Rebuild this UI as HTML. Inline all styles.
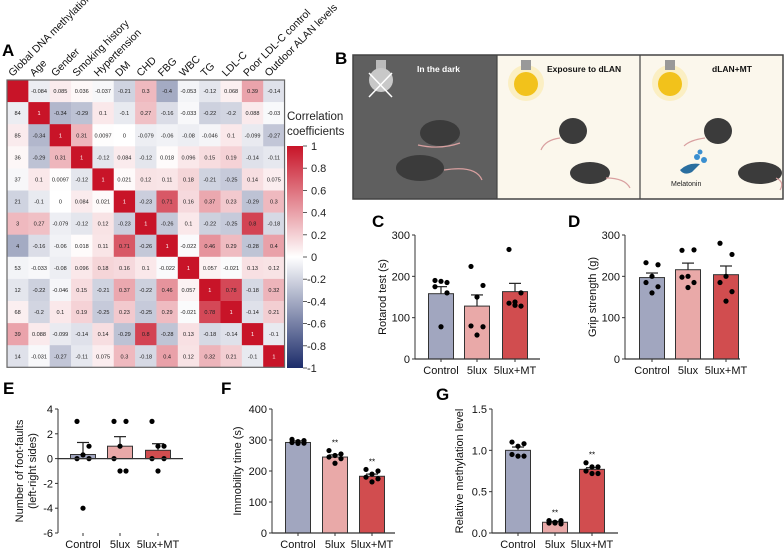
<!DOCTYPE html>
<html><head><meta charset="utf-8"><style>
html,body{margin:0;padding:0;background:#fff;}
svg{display:block;font-family:"Liberation Sans",Arial,sans-serif;}
</style></head><body>
<svg id="fig" width="784" height="549" viewBox="0 0 784 549" xmlns="http://www.w3.org/2000/svg">
<g id="heat"></g>
<g id="panelB">
  <text x="335" y="64" font-size="17" font-weight="bold">B</text>
  <rect x="353" y="55" width="144" height="144" fill="#5f5f5f"/>
  <rect x="497" y="55" width="143" height="144" fill="#fbf7ec"/>
  <rect x="640" y="55" width="143" height="144" fill="#fbf7ec"/>
  <rect x="353" y="55" width="430" height="144" fill="none" stroke="#444" stroke-width="1.5"/>
  <line x1="497" y1="55" x2="497" y2="199" stroke="#444" stroke-width="1.2"/>
  <line x1="640" y1="55" x2="640" y2="199" stroke="#444" stroke-width="1.2"/>
  <text x="417" y="72" font-size="8.5" font-weight="bold" fill="#fff">In the dark</text>
  <text x="547" y="72" font-size="8.5" font-weight="bold" fill="#111">Exposure to dLAN</text>
  <text x="712" y="72" font-size="8.5" font-weight="bold" fill="#111">dLAN+MT</text>
  <g>
    <rect x="376" y="60" width="10" height="10" fill="#bbb"/>
    <circle cx="381" cy="80" r="12" fill="#c8c8c8"/>
    <line x1="369" y1="73" x2="392" y2="97" stroke="#fff" stroke-width="1.5"/><line x1="392" y1="73" x2="369" y2="97" stroke="#fff" stroke-width="1.5"/>
  </g>
  <g>
    <circle cx="526" cy="83" r="18" fill="#fbe9a8" opacity="0.6"/>
    <rect x="521" y="60" width="10" height="10" fill="#999"/>
    <circle cx="526" cy="84" r="12" fill="#f2c21b"/>
  </g>
  <g>
    <circle cx="670" cy="83" r="18" fill="#fbe9a8" opacity="0.6"/>
    <rect x="665" y="60" width="10" height="10" fill="#999"/>
    <circle cx="670" cy="84" r="12" fill="#f2c21b"/>
  </g>
  <g fill="#3b3b3b">
    <ellipse cx="440" cy="133" rx="20" ry="13"/><ellipse cx="420" cy="168" rx="24" ry="13"/>
    <ellipse cx="573" cy="131" rx="14" ry="13"/><ellipse cx="590" cy="173" rx="20" ry="11"/>
    <ellipse cx="718" cy="131" rx="14" ry="13"/><ellipse cx="760" cy="173" rx="22" ry="11"/>
  </g>
  <g fill="none" stroke="#d9a0a0" stroke-width="1.2">
    <path d="M418 145 Q 440 150 460 143"/><path d="M444 170 Q 476 165 482 180"/>
    <path d="M560 138 Q 545 140 541 150"/><path d="M606 178 Q 625 178 630 188"/>
    <path d="M705 138 Q 690 140 684 146"/><path d="M776 178 Q 785 182 780 190"/>
  </g>
  <path d="M680 170 q8 -8 20 -6 l-8 8 q-8 4 -12 -2z" fill="#2a6e9f"/>
  <circle cx="697" cy="157" r="3" fill="#3a8fd0"/><circle cx="704" cy="160" r="3" fill="#3a8fd0"/><circle cx="700" cy="152" r="2.5" fill="#3a8fd0"/>
  <text x="671" y="186" font-size="7" fill="#222">Melatonin</text>
</g>
<g id="charts"></g>
</svg>
<script>
const NS="http://www.w3.org/2000/svg";
function mk(tag,attrs,parent,txt){const e=document.createElementNS(NS,tag);for(const k in attrs)e.setAttribute(k,attrs[k]);if(txt!==undefined)e.textContent=txt;parent.appendChild(e);return e;}

// ---------- Heatmap data ----------
const heatLabels=["Global DNA methylation","Age","Gender","Smoking history","Hypertension","DM","CHD","FBG","WBC","TG","LDL-C","Poor LDL-C control","Outdoor ALAN levels"];
const heatRow0=[1,-0.084,0.085,0.036,-0.037,-0.21,0.3,-0.4,-0.053,-0.12,0.068,0.39,-0.14];
const heatRow1=[-0.084,1,-0.34,-0.29,0.1,-0.1,0.27,-0.16,-0.033,-0.22,-0.2,0.088,-0.03];
const heatRow2=[0.085,-0.34,1,0.31,0.0097,0,-0.079,-0.06,-0.08,-0.046,0.1,-0.099,-0.27];
const heatRow3=[0.036,-0.29,0.31,1,-0.12,0.084,-0.12,0.018,0.096,0.15,0.19,-0.14,-0.11];
const heatRow4=[-0.037,0.1,0.0097,-0.12,1,0.021,0.12,0.11,0.18,-0.21,-0.25,0.14,0.075];
const heatRow5=[-0.21,-0.1,0,0.084,0.021,1,-0.23,0.71,0.16,0.37,0.23,-0.29,0.3];
const heatRow6=[0.3,0.27,-0.079,-0.12,0.12,-0.23,1,-0.26,0.1,-0.22,-0.25,0.8,-0.18];
const heatRow7=[-0.4,-0.16,-0.06,0.018,0.11,0.71,-0.26,1,-0.022,0.46,0.29,-0.28,0.4];
const heatRow8=[-0.053,-0.033,-0.08,0.096,0.18,0.16,0.1,-0.022,1,0.057,-0.021,0.13,0.12];
const heatRow9=[-0.12,-0.22,-0.046,0.15,-0.21,0.37,-0.22,0.46,0.057,1,0.78,-0.18,0.32];
const heatRow10=[0.068,-0.2,0.1,0.19,-0.25,0.23,-0.25,0.29,-0.021,0.78,1,-0.14,0.21];
const heatRow11=[0.39,0.088,-0.099,-0.14,0.14,-0.29,0.8,-0.28,0.13,-0.18,-0.14,1,-0.1];
const heatRow12=[-0.14,-0.031,-0.27,-0.11,0.075,0.3,-0.18,0.4,0.12,0.32,0.21,-0.1,1];
const heatMatrix=[heatRow0,heatRow1,heatRow2,heatRow3,heatRow4,heatRow5,heatRow6,heatRow7,heatRow8,heatRow9,heatRow10,heatRow11,heatRow12];
const cbTicks=[1,0.8,0.6,0.4,0.2,0,-0.2,-0.4,-0.6,-0.8,-1];

// ---------- Bar chart data ----------
const groups=["Control","5lux","5lux+MT"];
const cMeans=[158,128,163], cSem=[17,27,20];
const cPts=[[190,185,188,175,160,78],[224,178,150,80,78,58],[265,160,138,135,128,130]];
const dMeans=[197,216,204], dSem=[11,16,21];
const dPts=[[233,228,200,185,175,160],[263,264,200,198,185,173],[280,253,200,185,163,140]];
const eMeans=[0.33,1,0.67], eSem=[0.97,0.77,0.53];
const ePts=[[3,1,0.3,0,0,-4],[3,3,1,0,-1,-1],[3,1,1,0,0,-1]];
const fMeans=[292,245,183], fSem=[5,7,7];
const fPts=[[302,298,295,292,290,289],[266,255,250,245,240,225],[205,200,190,180,175,165]];
const gMeans=[1.0,0.13,0.77], gSem=[0.04,0.01,0.02];
const gPts=[[1.1,1.08,1.05,0.95,0.93,0.93],[0.15,0.15,0.12,0.12,0.11,0.13],[0.85,0.8,0.8,0.75,0.72,0.72]];
const fStars=[false,true,true], gStars=[false,true,true];

// ---------- Heatmap render ----------
const H=document.getElementById('heat');
const hx0=7,hy0=80,cw=21.35,ch=22.1;
function heatColor(v){
  const r=v>=0?[200,20,40]:[28,44,106];
  const t=Math.min(1,Math.abs(v));
  const c=[0,1,2].map(i=>Math.round(255+(r[i]-255)*t));
  return `rgb(${c[0]},${c[1]},${c[2]})`;
}
const lblA=mk('text',{x:2,y:56,'font-size':17,'font-weight':'bold'},H,'A');


heatLabels.forEach((l,i)=>{
  const cx=hx0+cw*(i+0.5)-5, cy=hy0-3;
  const t=mk('text',{x:cx,y:cy,'font-size':10.5,transform:`rotate(-45 ${cx} ${cy})`,fill:'#111'},H,l);
  
  
});
heatMatrix.forEach((row,r)=>{
  row.forEach((v,c)=>{
    const x=hx0+c*cw,y=hy0+r*ch;
    const rc=mk('rect',{x:x,y:y,width:cw+0.3,height:ch+0.3,fill:heatColor(v)},H);
    
    
    if(r===0&&c===0)return;
    let s=String(v);
    if(c===0){s=s.replace('-','').replace('0.','').replace(/^0+(?=\d\d)/,'');}
    const tt=mk('text',{x:x+cw/2,y:y+ch/2+2,'font-size':5.6,'text-anchor':'middle',fill:(r===c)?'#fff':'#222'},H,s);
    
    
  });
});
mk('rect',{x:hx0,y:hy0,width:cw*13,height:ch*13,fill:'none',stroke:'#666','stroke-width':1.2},H);
// colorbar
const defs=mk('defs',{},H);
const gr=mk('linearGradient',{id:'cbg',x1:0,y1:0,x2:0,y2:1},defs);
mk('stop',{offset:'0%','stop-color':heatColor(1)},gr);
mk('stop',{offset:'50%','stop-color':'#fff'},gr);
mk('stop',{offset:'100%','stop-color':heatColor(-1)},gr);
const cbTop=146,cbBot=368;
const cb=mk('rect',{x:287,y:cbTop,width:16,height:cbBot-cbTop,fill:'url(#cbg)'},H);


const ct1=mk('text',{x:287,y:120,'font-size':11.5,fill:'#222'},H,'Correlation');


mk('text',{x:287,y:135,'font-size':11.5,fill:'#222'},H,'coefficients');
cbTicks.forEach(v=>{
  const y=cbBot-(v+1)/2*(cbBot-cbTop);
  mk('line',{x1:303,y1:y,x2:307,y2:y,stroke:'#333','stroke-width':0.8},H);
  const t=mk('text',{x:v<0?307:311,y:y+4,'font-size':11,fill:'#222'},H,String(v));
  
  
});

// ---------- Bar chart renderer ----------
const C=document.getElementById('charts');
const barFill=['#a1a6bf','#e9a9a8','#d14d4f'];
function barChart(o){
  const g=mk('g',{},C);
  
  
  const yScale=v=>o.yBot-(v-o.yMin)/(o.yMax-o.yMin)*(o.yBot-o.yTop);
  const L=mk('text',{x:o.lx,y:o.ly,'font-size':17,'font-weight':'bold'},g,o.letter);
  
  
  const zeroY=yScale(Math.max(0,o.yMin));
  o.means.forEach((m,i)=>{
    const cx=o.cx[i];
    const yb=yScale(m);
    const r=mk('rect',{x:cx-12.5,y:Math.min(yb,zeroY),width:25,height:Math.abs(zeroY-yb),fill:barFill[i],stroke:'#333','stroke-width':1},g);
    
    
    const dir=m>=0?1:-1;
    const ye=yScale(m+dir*o.sem[i]);
    mk('line',{x1:cx,y1:yb,x2:cx,y2:ye,stroke:'#222','stroke-width':1.2},g);
    mk('line',{x1:cx-6,y1:ye,x2:cx+6,y2:ye,stroke:'#222','stroke-width':1.2},g);
    const pts=o.pts[i];
    pts.forEach((p,j)=>{
      const off=[-6,6,0,-6,6,0][j];
      const d=mk('circle',{cx:cx+off,cy:yScale(p),r:2.6,fill:'#000'},g);
      
      
    });
    if(o.stars&&o.stars[i]){
      const top=Math.max(...pts);
      mk('text',{x:cx,y:yScale(top)-5,'font-size':8,'text-anchor':'middle'},g,'**');
    }
    const tl=mk('text',{x:cx,y:o.yBot+15,'font-size':11,'text-anchor':'middle',fill:'#111'},g,groups[i]);
    
    
  });
  mk('line',{x1:o.ax,y1:o.yTop,x2:o.ax,y2:o.yBot,stroke:'#333','stroke-width':1},g);
  mk('line',{x1:o.ax,y1:zeroY,x2:o.axEnd,y2:zeroY,stroke:'#333','stroke-width':1.2},g);
  o.ticks.forEach((t,k)=>{
    const y=yScale(t);
    mk('line',{x1:o.ax-3,y1:y,x2:o.ax,y2:y,stroke:'#333'},g);
    const tx=mk('text',{x:o.ax-5,y:y+4,'font-size':11,'text-anchor':'end',fill:'#111'},g,o.tickLabels[k]);
    
    
  });
  o.cx.forEach(cx=>mk('line',{x1:cx,y1:o.yBot,x2:cx,y2:o.yBot+3,stroke:'#333'},g));
  const my=(o.yTop+o.yBot)/2;
  o.ylab.forEach((s,k)=>{
    const x=o.ylx+k*13;
    const t=mk('text',{x:x,y:my,'font-size':11,'text-anchor':'middle',transform:`rotate(-90 ${x} ${my})`,fill:'#111'},g,s);
    
    
  });
}
barChart({name:'rotarod-chart',letter:'C',lx:372,ly:227,ax:415,axEnd:540,yTop:235,yBot:359,yMin:0,yMax:300,cx:[441,477,515],means:cMeans,sem:cSem,pts:cPts,ticks:[0,100,200,300],tickLabels:['0','100','200','300'],ylab:['Rotarod test (s)'],ylx:386});
barChart({name:'grip-strength-chart',letter:'D',lx:568,ly:227,ax:625,axEnd:740,yTop:235,yBot:359,yMin:0,yMax:300,cx:[652,688,726],means:dMeans,sem:dSem,pts:dPts,ticks:[0,100,200,300],tickLabels:['0','100','200','300'],ylab:['Grip strength (g)'],ylx:596});
barChart({name:'foot-faults-chart',letter:'E',lx:3,ly:394,ax:58,axEnd:183,yTop:409,yBot:533,yMin:-6,yMax:4,cx:[83,120,158],means:eMeans,sem:eSem,pts:ePts,ticks:[-6,-4,-2,0,2,4],tickLabels:['-6','-4','-2','0','2','4'],ylab:['Number of foot-faults','(left-right sides)'],ylx:23});
barChart({name:'immobility-chart',letter:'F',lx:221,ly:394,ax:272,axEnd:395,yTop:409,yBot:533,yMin:0,yMax:400,cx:[298,335,372],means:fMeans,sem:fSem,pts:fPts,stars:fStars,ticks:[0,100,200,300,400],tickLabels:['0','100','200','300','400'],ylab:['Immobility time (s)'],ylx:241});
barChart({name:'methylation-chart',letter:'G',lx:436,ly:400,ax:492,axEnd:618,yTop:409,yBot:533,yMin:0,yMax:1.5,cx:[518,555,592],means:gMeans,sem:gSem,pts:gPts,stars:gStars,ticks:[0,0.5,1,1.5],tickLabels:['0.0','0.5','1.0','1.5'],ylab:['Relative methylation level'],ylx:463});
</script>
</body></html>
